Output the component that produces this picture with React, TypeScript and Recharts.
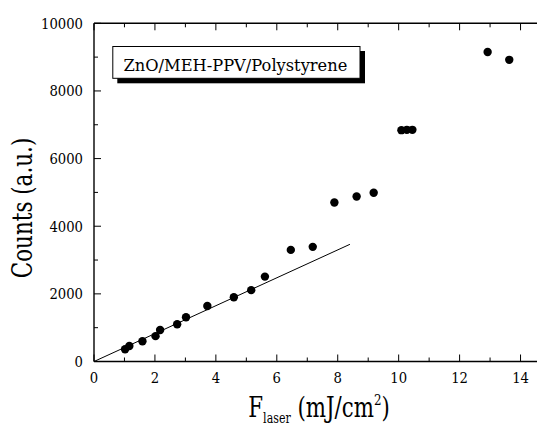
import React from 'react';
import { ScatterChart, Scatter, XAxis, YAxis } from 'recharts';

const fluence = [1.02, 1.16, 1.59, 2.02, 2.17, 2.73, 3.02, 3.72, 4.59, 5.16, 5.61, 6.46, 7.18, 7.89, 8.62, 9.18, 10.09, 10.27, 10.45, 12.92, 13.63];
const counts = [360, 460, 600, 750, 930, 1100, 1310, 1640, 1900, 2110, 2510, 3300, 3390, 4700, 4880, 4990, 6840, 6850, 6850, 9150, 8920];
const fitFluence = [0, 8.4];
const fitCounts = [0, 3465];
const xTicks = [0, 1, 2, 3, 4, 5, 6, 7, 8, 9, 10, 11, 12, 13, 14, 15];
const yTicks = [0, 1000, 2000, 3000, 4000, 5000, 6000, 7000, 8000, 9000, 10000];
const legendText = 'ZnO/MEH-PPV/Polystyrene';
const yLabel = 'Counts (a.u.)';

const points = fluence.map((x, i) => ({ x, y: counts[i] }));
const fit = fitFluence.map((x, i) => ({ x, y: fitCounts[i] }));

const FONT = '"DejaVu Serif", serif';
const TICK_FS = 15;
const TICK_SX = 0.88;

const PL = 86;
const PR = 543;
const PT = 15.3;
const PB = 353.5;

const BottomTick = (props: any) => {
  const { x, payload } = props;
  const y = PB;
  const v = payload.value;
  const major = v % 2 === 0;
  return (
    <g>
      <line x1={x} x2={x} y1={y} y2={y - (major ? 7 : 4)} stroke="#000" strokeWidth={1} />
      {major && (
        <text
          transform={`translate(${x}, ${y + 21}) scale(${TICK_SX}, 1)`}
          textAnchor="middle"
          style={{ fontFamily: FONT }}
          fontSize={TICK_FS}
          fill="#000"
        >
          {v}
        </text>
      )}
    </g>
  );
};

const TopTick = (props: any) => {
  const { x, payload } = props;
  const y = PT;
  const major = payload.value % 2 === 0;
  return <line x1={x} x2={x} y1={y} y2={y + (major ? 7 : 4)} stroke="#000" strokeWidth={1} />;
};

const LeftTick = (props: any) => {
  const { y, payload } = props;
  const x = PL;
  const v = payload.value;
  const major = v % 2000 === 0;
  return (
    <g>
      <line x1={x} x2={x + (major ? 7 : 4)} y1={y} y2={y} stroke="#000" strokeWidth={1} />
      {major && (
        <text
          transform={`translate(${x - 11}, ${y + 5.5}) scale(${TICK_SX}, 1)`}
          textAnchor="end"
          style={{ fontFamily: FONT }}
          fontSize={TICK_FS}
          fill="#000"
        >
          {v}
        </text>
      )}
    </g>
  );
};

const RightTick = (props: any) => {
  const { y, payload } = props;
  const x = PR;
  const major = payload.value % 2000 === 0;
  return <line x1={x} x2={x - (major ? 7 : 4)} y1={y} y2={y} stroke="#000" strokeWidth={1} />;
};

const axisLine = { stroke: '#000', strokeWidth: 1.4 };

export default function App() {
  return (
    <div style={{ position: 'relative', width: 537, height: 417, background: '#fff' }}>
      <div style={{ position: 'absolute', left: 0, top: 0, width: 537, height: 417, overflow: 'hidden' }}>
        <ScatterChart
          width={560}
          height={417}
          margin={{ top: PT - 10, right: 560 - PR - 10, bottom: 417 - PB - 30, left: PL - 30 }}
        >
          <XAxis xAxisId="bottom" type="number" dataKey="x" domain={[0, 15]} ticks={xTicks} interval={0} allowDataOverflow height={30} tickSize={0} tickMargin={0} tickLine={false} axisLine={axisLine} tick={BottomTick} />
          <XAxis xAxisId="top" orientation="top" type="number" dataKey="x" domain={[0, 15]} ticks={xTicks} interval={0} allowDataOverflow height={10} tickSize={0} tickMargin={0} tickLine={false} axisLine={axisLine} tick={TopTick} />
          <YAxis yAxisId="left" type="number" dataKey="y" domain={[0, 10000]} ticks={yTicks} interval={0} allowDataOverflow width={30} tickSize={0} tickMargin={0} tickLine={false} axisLine={axisLine} tick={LeftTick} />
          <YAxis yAxisId="right" orientation="right" type="number" dataKey="y" domain={[0, 10000]} ticks={yTicks} interval={0} allowDataOverflow width={10} tickSize={0} tickMargin={0} tickLine={false} axisLine={axisLine} tick={RightTick} />
          <Scatter xAxisId="bottom" yAxisId="left" data={fit} line={{ stroke: '#000', strokeWidth: 1 }} lineType="joint" shape={() => <g />} isAnimationActive={false} />
          <Scatter xAxisId="bottom" yAxisId="left" data={points} shape={(p: any) => <circle cx={p.cx} cy={p.cy} r={4.2} fill="#000" />} isAnimationActive={false} />
        </ScatterChart>
      </div>

      <svg width={545} height={425} style={{ position: 'absolute', left: -8, top: -8, pointerEvents: 'none' }}>
        <g transform="translate(8, 8)">
          {/* legend box with drop shadow */}
          <rect x={109.3} y={43} width={247.7} height={32.3} fill="#000" />
          <rect x={104.8} y={38.5} width={247.2} height={31.8} fill="#fff" stroke="#000" strokeWidth={1} />
          <text
            transform="translate(227.4, 62.7) scale(0.957, 1)"
            textAnchor="middle"
            style={{ fontFamily: FONT }}
            fontSize={17}
            fill="#000"
          >
            {legendText}
          </text>

          {/* y axis title */}
          <text
            transform="translate(23.7, 200) rotate(-90) scale(0.796, 1)"
            textAnchor="middle"
            style={{ fontFamily: FONT }}
            fontSize={27}
            fill="#000"
          >
            {yLabel}
          </text>

          {/* x axis title */}
          <text transform="translate(240.3, 409) scale(0.79, 1)" style={{ fontFamily: FONT }} fontSize={27} fill="#000">
            <tspan>F</tspan>
            <tspan fontSize={14} dy={6}>laser</tspan>
            <tspan dy={-6}> (mJ/cm</tspan>
            <tspan fontSize={15} dy={-12}>2</tspan>
            <tspan dy={12}>)</tspan>
          </text>
        </g>
      </svg>
    </div>
  );
}
